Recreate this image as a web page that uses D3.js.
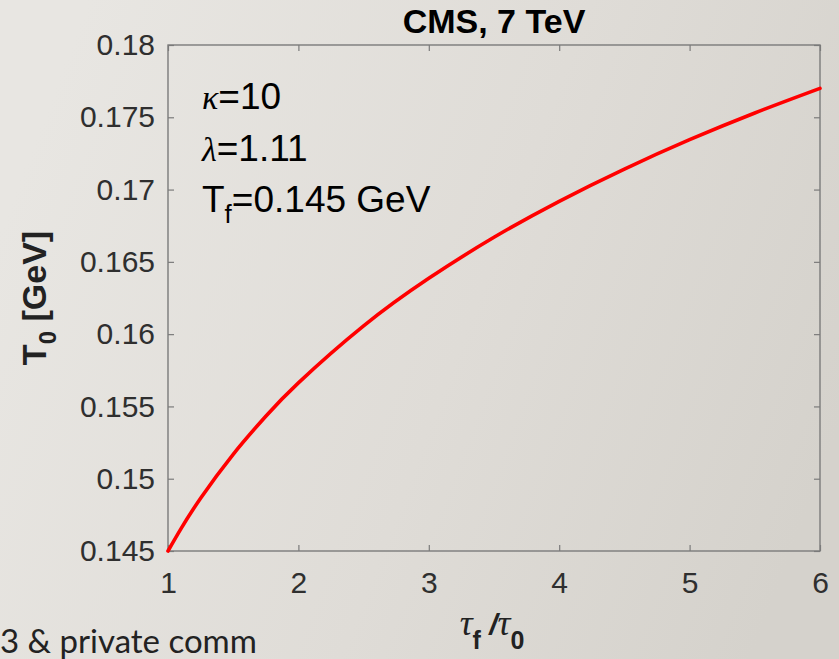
<!DOCTYPE html>
<html>
<head>
<meta charset="utf-8">
<script src="https://cdn.jsdelivr.net/npm/d3@7"></script>
<style>
  html, body { margin: 0; padding: 0; overflow: hidden; }
  svg { display: block; }
</style>
</head>
<body>
<svg id="chart" width="839" height="659"></svg>
<script>
// Initial temperature T0 versus the proper-time ratio tau_f / tau_0
const ratio = [1, 1.1, 1.25, 1.5, 1.75, 2, 2.5, 3, 3.5, 4, 4.5, 5, 5.5, 6];
const temperature = [0.1450, 0.14655, 0.14865, 0.15169, 0.15432, 0.15663, 0.16057, 0.16386,
                     0.16670, 0.16919, 0.17142, 0.17345, 0.17530, 0.17700];

const xTicks = [1, 2, 3, 4, 5, 6];
const yTicks = [0.145, 0.15, 0.155, 0.16, 0.165, 0.17, 0.175, 0.18];
const yTickLabels = ["0.145", "0.15", "0.155", "0.16", "0.165", "0.17", "0.175", "0.18"];

const titleText = "CMS, 7 TeV";
const params = [
  { sym: "\u03BA", rest: "=10" },
  { sym: "\u03BB", rest: "=1.11" }
];
const footnote = "3 & private comm";

const W = 839, H = 659;
const margin = { top: 45, right: 19, bottom: 108, left: 168 };
const iw = W - margin.left - margin.right;
const ih = H - margin.top - margin.bottom;

const svg = d3.select("#chart");
const defs = svg.append("defs");
const grad = defs.append("linearGradient")
  .attr("id", "bg").attr("x1", 0).attr("y1", 0.35).attr("x2", 1).attr("y2", 0.65);
grad.append("stop").attr("offset", "0%").attr("stop-color", "#e8e6e2");
grad.append("stop").attr("offset", "55%").attr("stop-color", "#dfdcd7");
grad.append("stop").attr("offset", "100%").attr("stop-color", "#d5d2cc");
svg.append("rect").attr("width", W).attr("height", H).attr("fill", "url(#bg)");

const sans = "'Liberation Sans', Arial, Helvetica, sans-serif";
const serif = "'Liberation Serif', 'Times New Roman', serif";

const x = d3.scaleLinear().domain([1, 6]).range([0, iw]);
const y = d3.scaleLinear().domain([0.145, 0.18]).range([ih, 0]);

const g = svg.append("g").attr("transform", `translate(${margin.left},${margin.top})`);

const axisColor = "#7b7b7b";
const labelColor = "#2f2f2f";
const tick = 6;

function styleAxis(sel, showText) {
  sel.select(".domain").remove();
  sel.selectAll(".tick line").attr("stroke", axisColor).attr("stroke-width", 1.2);
  sel.selectAll(".tick text")
    .attr("fill", labelColor)
    .style("font-family", sans)
    .style("font-size", "30px")
    .style("display", showText ? null : "none");
}

// bottom axis with labels, ticks pointing inward
g.append("g").attr("transform", `translate(0,${ih})`)
  .call(d3.axisBottom(x).tickValues(xTicks).tickFormat(d3.format("d"))
    .tickSizeInner(-tick).tickSizeOuter(0).tickPadding(21))
  .call(s => styleAxis(s, true));

// top axis, ticks only
g.append("g")
  .call(d3.axisTop(x).tickValues(xTicks).tickSizeInner(-tick).tickSizeOuter(0).tickFormat(""))
  .call(s => styleAxis(s, false));

// left axis with labels
g.append("g")
  .call(d3.axisLeft(y).tickValues(yTicks).tickFormat((d, i) => yTickLabels[i])
    .tickSizeInner(-tick).tickSizeOuter(0).tickPadding(13))
  .call(s => styleAxis(s, true));

// right axis, ticks only
g.append("g").attr("transform", `translate(${iw},0)`)
  .call(d3.axisRight(y).tickValues(yTicks).tickSizeInner(-tick).tickSizeOuter(0).tickFormat(""))
  .call(s => styleAxis(s, false));

// axes box
g.append("rect")
  .attr("x", 0).attr("y", 0).attr("width", iw).attr("height", ih)
  .attr("fill", "none").attr("stroke", axisColor).attr("stroke-width", 1.4);

// curve
const pts = ratio.map((r, i) => [r, temperature[i]]);
g.append("path")
  .datum(pts)
  .attr("fill", "none")
  .attr("stroke", "#ff0000")
  .attr("stroke-width", 3.6)
  .attr("stroke-linecap", "round")
  .attr("d", d3.line().x(d => x(d[0])).y(d => y(d[1])).curve(d3.curveNatural));

// title
svg.append("text")
  .attr("x", margin.left + iw / 2).attr("y", 33)
  .attr("text-anchor", "middle")
  .style("font-family", sans).style("font-weight", "bold").style("font-size", "34px")
  .attr("fill", "#000")
  .text(titleText);

// parameter annotations
const ann = g.append("g").attr("transform", "translate(34,0)");
params.forEach((p, i) => {
  const t = ann.append("text").attr("x", 0).attr("y", 64 + i * 51.5)
    .attr("fill", "#000").style("font-family", sans).style("font-size", "37px");
  t.append("tspan").style("font-family", serif).style("font-style", "italic").style("font-size", "34px").text(p.sym);
  t.append("tspan").text(p.rest);
});
const tf = ann.append("text").attr("x", 0).attr("y", 167)
  .attr("fill", "#000").style("font-family", sans).style("font-size", "37px");
tf.append("tspan").text("T");
tf.append("tspan").attr("dy", 11).style("font-size", "26px").text("f");
tf.append("tspan").attr("dy", -11).text("=0.145 GeV");

// y label
const yl = svg.append("text")
  .attr("transform", `translate(46,298) rotate(-90)`)
  .attr("text-anchor", "middle")
  .attr("fill", "#222")
  .style("font-family", sans).style("font-weight", "bold").style("font-size", "34px");
yl.append("tspan").text("T");
yl.append("tspan").attr("dy", 10).style("font-size", "24px").text("0");
yl.append("tspan").attr("dy", -10).text(" [GeV]");

// x label
const xl = svg.append("text")
  .attr("x", 492).attr("y", 635)
  .attr("text-anchor", "middle")
  .attr("fill", "#222")
  .style("font-family", sans).style("font-weight", "bold").style("font-size", "36px");
xl.append("tspan").style("font-family", serif).style("font-style", "italic").style("font-weight", "normal").text("\u03C4");
xl.append("tspan").attr("dy", 14).style("font-size", "25px").text("f");
xl.append("tspan").attr("dy", -14).style("font-size", "30px").style("font-style", "italic").text(" /");
xl.append("tspan").style("font-family", serif).style("font-style", "italic").style("font-weight", "normal").text("\u03C4");
xl.append("tspan").attr("dy", 14).style("font-size", "25px").text("0");

// footnote at slide bottom
svg.append("text")
  .attr("x", 0).attr("y", 653)
  .attr("fill", "#222")
  .style("font-family", "Lato, 'Open Sans', sans-serif").style("font-size", "33px")
  .text(footnote);
</script>
</body>
</html>
